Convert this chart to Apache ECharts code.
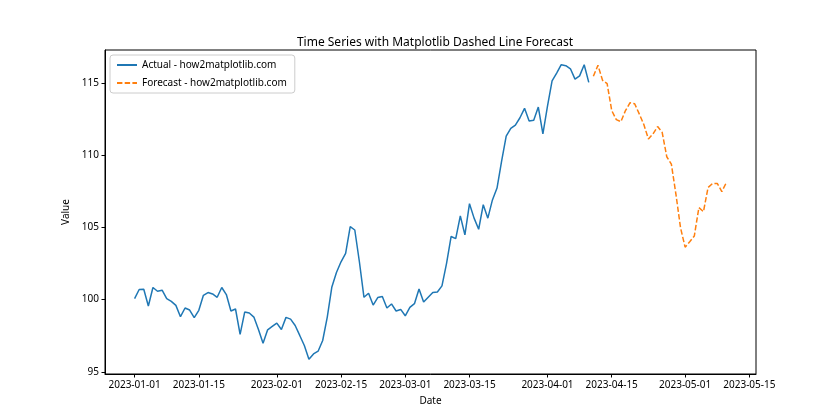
<!DOCTYPE html>
<html>
<head>
<meta charset="utf-8">
<title>Time Series Forecast</title>
<script src="https://cdn.jsdelivr.net/npm/echarts@6/dist/echarts.min.js"></script>
<style>
  html, body { margin: 0; padding: 0; background: #fff; }
  #chart { width: 840px; height: 420px; }
</style>
</head>
<body>
<div id="chart"></div>
<script>
// actual: 100 days from 2023-01-01, forecast: 30 days from 2023-04-11
const actualStart = '2023-01-01'
const forecastStart = '2023-04-11'

const actualValues = [
  100.07, 100.70, 100.72, 99.56, 100.84, 100.58, 100.65, 100.07, 99.88, 99.60,
  98.82, 99.42, 99.28, 98.75, 99.26, 100.30, 100.49, 100.39, 100.16, 100.84,
  100.35, 99.21, 99.35, 97.59, 99.14, 99.07, 98.79, 97.93, 96.98, 97.91,
  98.14, 98.37, 97.93, 98.77, 98.65, 98.21, 97.52, 96.82, 95.87, 96.24,
  96.43, 97.17, 98.79, 100.88, 101.88, 102.62, 103.20, 105.05, 104.82, 102.62,
  100.16, 100.44, 99.62, 100.14, 100.21, 99.42, 99.70, 99.21, 99.32, 98.88,
  99.46, 99.72, 100.74, 99.83, 100.16, 100.49, 100.53, 100.95, 102.51, 104.37,
  104.22, 105.80, 104.48, 106.64, 105.64, 104.87, 106.57, 105.64, 106.90, 107.72,
  109.58, 111.31, 111.85, 112.08, 112.59, 113.24, 112.36, 112.41, 113.33, 111.48,
  113.40, 115.14, 115.68, 116.26, 116.19, 115.98, 115.26, 115.49, 116.26, 115.04
]

const forecastValues = [
  115.46, 116.22, 115.18, 114.95, 113.09, 112.46, 112.32, 113.09, 113.63, 113.56,
  112.86, 112.12, 111.12, 111.47, 111.98, 111.58, 109.89, 109.38, 107.29, 104.97,
  103.63, 104.00, 104.40, 106.37, 106.09, 107.76, 108.04, 108.04, 107.48, 108.11
]

const xTickLabels = [
  '2023-01-01', '2023-01-15', '2023-02-01', '2023-02-15', '2023-03-01',
  '2023-03-15', '2023-04-01', '2023-04-15', '2023-05-01', '2023-05-15'
]
const yTicks = [95, 100, 105, 110, 115]

const DAY = 86400000
const toTime = s => Date.parse(s + 'T00:00:00Z')
const fmtDate = v => new Date(v).toISOString().slice(0, 10)

const actualData = actualValues.map((v, i) => [toTime(actualStart) + i * DAY, v])
const forecastData = forecastValues.map((v, i) => [toTime(forecastStart) + i * DAY, v])
const xTicks = xTickLabels.map(toTime)

// matplotlib-like 5% margins
const xMin0 = actualData[0][0]
const xMax0 = forecastData[forecastData.length - 1][0]
const xPad = (xMax0 - xMin0) * 0.05
const allY = actualValues.concat(forecastValues)
const yMin0 = Math.min(...allY)
const yMax0 = Math.max(...allY)
const yPad = (yMax0 - yMin0) * 0.05

const font = 'Noto Sans'
const chart = echarts.init(document.getElementById('chart'))

chart.setOption({
  animation: false,
  backgroundColor: '#fff',
  textStyle: { fontFamily: font },
  title: {
    text: 'Time Series with Matplotlib Dashed Line Forecast',
    left: 430,
    textAlign: 'center',
    top: 32,
    textStyle: { fontFamily: font, fontSize: 12, fontWeight: 'normal', color: '#000' }
  },
  legend: {
    orient: 'vertical',
    left: 110,
    top: 55,
    padding: [5, 8, 5, 6],
    itemGap: 8,
    itemWidth: 20,
    itemHeight: 10,
    itemStyle: { opacity: 0 },
    backgroundColor: 'rgba(255,255,255,0.8)',
    borderColor: '#cccccc',
    borderWidth: 1,
    borderRadius: 3,
    textStyle: { fontFamily: font, fontSize: 10, color: '#000' },
    data: ['Actual - how2matplotlib.com', 'Forecast - how2matplotlib.com']
  },
  grid: {
    left: 105,
    right: 84,
    top: 50,
    bottom: 46,
    show: true,
    borderColor: '#000',
    borderWidth: 1,
    backgroundColor: 'transparent'
  },
  xAxis: {
    type: 'value',
    min: xMin0 - xPad,
    max: xMax0 + xPad,
    name: 'Date',
    nameLocation: 'middle',
    nameGap: 22,
    nameTextStyle: { fontFamily: font, fontSize: 10, color: '#000' },
    axisLine: { show: true, lineStyle: { color: '#000', width: 1 } },
    axisTick: { show: true, length: 3.5, customValues: xTicks, lineStyle: { color: '#000' } },
    axisLabel: {
      customValues: xTicks,
      formatter: v => fmtDate(v),
      fontFamily: font,
      fontSize: 10,
      color: '#000',
      margin: 6,
      hideOverlap: false
    },
    splitLine: { show: false }
  },
  yAxis: {
    type: 'value',
    min: yMin0 - yPad,
    max: yMax0 + yPad,
    name: 'Value',
    nameLocation: 'middle',
    nameGap: 30,
    nameTextStyle: { fontFamily: font, fontSize: 10, color: '#000' },
    axisLine: { show: true, lineStyle: { color: '#000', width: 1 } },
    axisTick: { show: true, length: 3.5, customValues: yTicks, lineStyle: { color: '#000' } },
    axisLabel: {
      customValues: yTicks,
      fontFamily: font,
      fontSize: 10,
      color: '#000',
      margin: 6
    },
    splitLine: { show: false }
  },
  series: [
    {
      name: 'Actual - how2matplotlib.com',
      type: 'line',
      data: actualData,
      symbol: 'none',
      itemStyle: { color: '#1f77b4' },
      lineStyle: { color: '#1f77b4', width: 1.5 }
    },
    {
      name: 'Forecast - how2matplotlib.com',
      type: 'line',
      data: forecastData,
      symbol: 'none',
      itemStyle: { color: '#ff7f0e' },
      lineStyle: { color: '#ff7f0e', width: 1.5, type: [5.4, 2.3] }
    }
  ]
})
</script>
</body>
</html>
